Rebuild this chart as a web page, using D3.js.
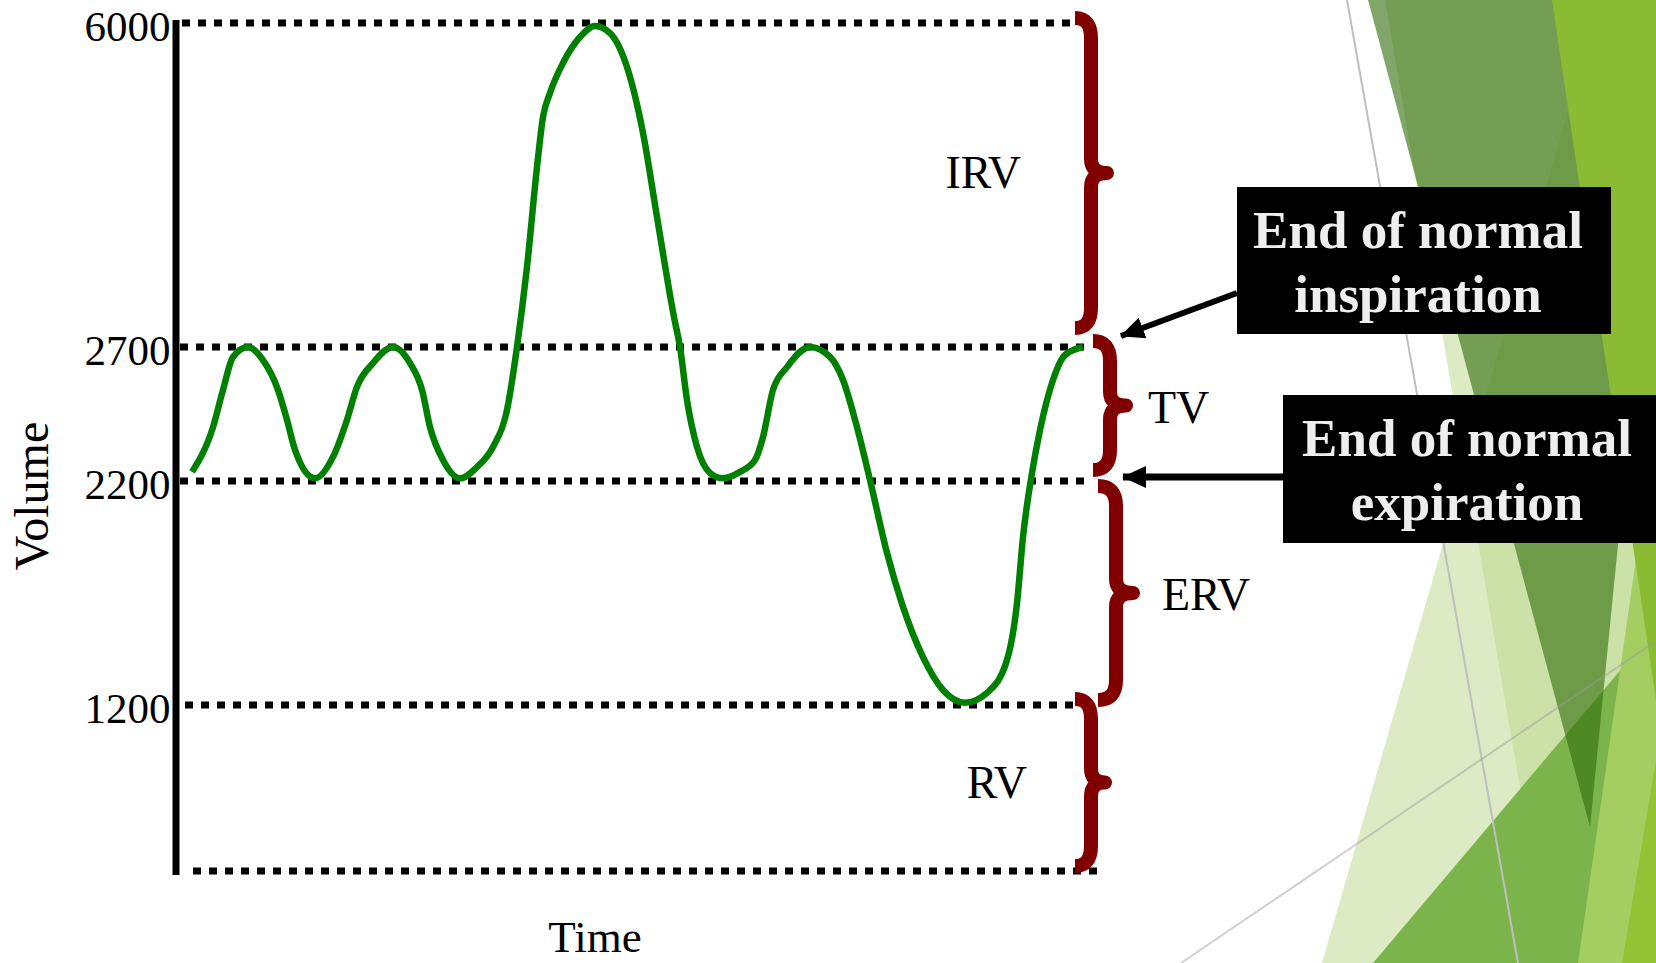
<!DOCTYPE html>
<html>
<head>
<meta charset="utf-8">
<script src="https://cdn.jsdelivr.net/npm/d3@7"></script>
<style>
body { margin: 0; background: #fff; overflow: hidden; }
svg { display: block; }
text { font-family: "Times New Roman", "Liberation Serif", Times, serif; }
</style>
</head>
<body>
<div id="chart"></div>
<script>
// spirogram (time in arbitrary units, volume in mL)
var timeData = [1.7, 3.8, 4.8, 5.8, 7.3, 8.8, 10.3, 11.2, 12.0, 14.0,
  15.8, 17.2, 18.2, 19.8, 21.8, 23.5, 24.7, 25.5, 26.8, 28.5,
  30.2, 31.8, 33.2, 34.2, 35.2, 36.2, 36.8, 37.5, 38.8, 40.5,
  42.0, 43.5, 45.2, 46.8, 48.2, 49.9, 50.5, 51.2, 52.2, 53.5,
  54.8, 56.5, 58.0, 58.8, 59.8, 61.2, 63.5, 65.5, 66.8, 68.2,
  69.5, 71.2, 72.8, 74.8, 76.8, 79.0, 81.2, 83.2, 84.2, 84.8,
  85.7, 86.5, 87.8, 89.0, 90.8];
var volumeData = [2234, 2401, 2540, 2663, 2700, 2651, 2540, 2428, 2316, 2210,
  2290, 2428, 2551, 2640, 2700, 2640, 2540, 2401, 2278, 2210,
  2252, 2327, 2465, 2700, 3515, 4533, 5043, 5287, 5593, 5857,
  5970, 5898, 5552, 4880, 4024, 3005, 2700, 2502, 2327, 2230,
  2210, 2234, 2278, 2364, 2540, 2625, 2700, 2663, 2577, 2401,
  2204, 1879, 1638, 1414, 1267, 1210, 1254, 1401, 1655, 1950,
  2230, 2390, 2577, 2670, 2700];

var tickValues = [6000, 2700, 2200, 1200];
var levelValues = [6000, 2700, 2200, 1200, 0];

var braceNames = ["IRV", "TV", "ERV", "RV"];
var braceLow = [2700, 2200, 1200, 0];
var braceHigh = [6000, 2700, 2200, 1200];

var noteLines = [["End of normal", "inspiration"], ["End of normal", "expiration"]];
var noteValues = [2700, 2200];

var width = 1656, height = 963;

var x = d3.scaleLinear().domain([0, 91]).range([175, 1085]);
// the picture is schematic, so the volume axis is piecewise
var y = d3.scaleLinear()
    .domain([0, 1200, 2200, 2700, 6000])
    .range([871, 705, 481, 347, 23]);

var svg = d3.select("#chart").append("svg")
    .attr("width", width)
    .attr("height", height);

svg.append("rect").attr("width", width).attr("height", height).attr("fill", "#fff");

// slide theme facets on the right
var facets = [
  {pts: [[1385, 0], [1656, 0], [1656, 963], [1550, 963]], fill: "#bbd78b", op: 0.5},
  {pts: [[1600, 0], [1656, 0], [1656, 963], [1322, 963]], fill: "#bbd78b", op: 0.5},
  {pts: [[1373, 963], [1656, 628], [1656, 963]], fill: "#7ab44a", op: 1},
  {pts: [[1578, 963], [1656, 420], [1656, 963]], fill: "#a5ce62", op: 1},
  {pts: [[1622, 963], [1656, 760], [1656, 963]], fill: "#93c234", op: 1},
  {pts: [[1368, 0], [1672, 0], [1590, 827]], fill: "#34700d", op: 0.62},
  {pts: [[1552, 0], [1656, 0], [1656, 700]], fill: "#8bba33", op: 1}
];
svg.append("g").selectAll("polygon")
    .data(facets)
    .enter()
    .append("polygon")
    .attr("points", function(d) { return d.pts.join(" "); })
    .attr("fill", function(d) { return d.fill; })
    .attr("fill-opacity", function(d) { return d.op; });

svg.append("line").attr("x1", 1347).attr("y1", 0).attr("x2", 1518).attr("y2", 963)
    .attr("stroke", "#bfbfbf").attr("stroke-width", 2);
svg.append("line").attr("x1", 1181).attr("y1", 963).attr("x2", 1656).attr("y2", 641)
    .attr("stroke", "#999").attr("stroke-opacity", 0.45).attr("stroke-width", 2);

// dotted level lines
var levelStart = {6000: 182, 2700: 180, 2200: 180, 1200: 185, 0: 193};
var levelEnd = {6000: 1075, 2700: 1086, 2200: 1086, 1200: 1073, 0: 1097};

svg.append("g").selectAll("line")
    .data(levelValues)
    .enter()
    .append("line")
    .attr("x1", function(d) { return levelStart[d]; })
    .attr("x2", function(d) { return levelEnd[d]; })
    .attr("y1", function(d) { return y(d); })
    .attr("y2", function(d) { return y(d); })
    .attr("stroke", "#000")
    .attr("stroke-width", 7)
    .attr("stroke-dasharray", "8 8");

// axis
var yAxis = d3.axisLeft(y)
    .tickValues(tickValues)
    .tickSize(0)
    .tickPadding(5)
    .tickFormat(d3.format("d"));

var gy = svg.append("g")
    .attr("transform", "translate(175.5,0)")
    .call(yAxis);
gy.select(".domain")
    .attr("stroke", "#000")
    .attr("stroke-width", 7)
    .attr("stroke-linecap", "square");
gy.selectAll("text")
    .attr("dy", "0.4em")
    .attr("fill", "#000")
    .style("font-size", "43px")
    .style("font-family", "\"Times New Roman\", \"Liberation Serif\", Times, serif");

svg.append("text")
    .attr("transform", "translate(48,496) rotate(-90)")
    .attr("text-anchor", "middle")
    .style("font-size", "48px")
    .text("Volume");

svg.append("text")
    .attr("x", 595)
    .attr("y", 952)
    .attr("text-anchor", "middle")
    .style("font-size", "45px")
    .text("Time");

// volume trace
var points = timeData.map(function(t, i) { return {t: t, v: volumeData[i]}; });

var line = d3.line()
    .x(function(d) { return x(d.t); })
    .y(function(d) { return y(d.v); })
    .curve(d3.curveMonotoneX);

svg.append("path")
    .datum(points)
    .attr("fill", "none")
    .attr("stroke", "#008000")
    .attr("stroke-width", 6.5)
    .attr("stroke-linejoin", "round")
    .attr("d", line);

// braces
var braceLayout = [
  {xe: 1075, xm: 1091, xt: 1107, t: -5, b: -19, lx: 1021, ly: 15, anchor: "end"},
  {xe: 1093, xm: 1110, xt: 1126, t: -6, b: -11, lx: 1148, ly: 17, anchor: "start"},
  {xe: 1098, xm: 1116, xt: 1133, t: 5, b: -5, lx: 1162, ly: 17, anchor: "start"},
  {xe: 1075, xm: 1091, xt: 1105, t: -6, b: -5, lx: 1027, ly: 15, anchor: "end"}
];

function bracePath(L, y0, y1) {
  var ym = (y0 + y1) / 2, r = 20, r2 = 14;
  return "M" + L.xe + "," + y0 +
    "Q" + L.xm + "," + y0 + " " + L.xm + "," + (y0 + r) +
    "L" + L.xm + "," + (ym - r2) +
    "Q" + L.xm + "," + ym + " " + L.xt + "," + ym +
    "Q" + L.xm + "," + ym + " " + L.xm + "," + (ym + r2) +
    "L" + L.xm + "," + (y1 - r) +
    "Q" + L.xm + "," + y1 + " " + L.xe + "," + y1;
}

var braces = svg.append("g").selectAll("g")
    .data(braceNames)
    .enter()
    .append("g");

braces.append("path")
    .attr("d", function(d, i) {
      var L = braceLayout[i];
      return bracePath(L, y(braceHigh[i]) + L.t, y(braceLow[i]) + L.b);
    })
    .attr("fill", "none")
    .attr("stroke", "#800000")
    .attr("stroke-width", 14)
    .attr("stroke-linejoin", "round");

braces.append("text")
    .attr("x", function(d, i) { return braceLayout[i].lx; })
    .attr("y", function(d, i) {
      var L = braceLayout[i];
      return (y(braceHigh[i]) + L.t + y(braceLow[i]) + L.b) / 2 + L.ly;
    })
    .attr("text-anchor", function(d, i) { return braceLayout[i].anchor; })
    .style("font-size", "46px")
    .text(function(d) { return d; });

// annotation boxes with arrows
svg.append("defs").append("marker")
    .attr("id", "head")
    .attr("viewBox", "0 0 24 22")
    .attr("refX", 23)
    .attr("refY", 11)
    .attr("markerWidth", 24)
    .attr("markerHeight", 22)
    .attr("markerUnits", "userSpaceOnUse")
    .attr("orient", "auto")
  .append("path")
    .attr("d", "M0,0L24,11L0,22Z")
    .attr("fill", "#000");

var noteLayout = [
  {x: 1237, y: 187, w: 374, h: 147, fx: 1237, fy: 293, tx: 1121, dy: -11, sw: 6},
  {x: 1283, y: 395, w: 380, h: 148, fx: 1283, fy: 477, tx: 1123, dy: -4, sw: 7}
];

var notes = svg.append("g").selectAll("g")
    .data(noteLines)
    .enter()
    .append("g");

notes.append("line")
    .attr("x1", function(d, i) { return noteLayout[i].fx; })
    .attr("y1", function(d, i) { return noteLayout[i].fy; })
    .attr("x2", function(d, i) { return noteLayout[i].tx; })
    .attr("y2", function(d, i) { return y(noteValues[i]) + noteLayout[i].dy; })
    .attr("stroke", "#000")
    .attr("stroke-width", function(d, i) { return noteLayout[i].sw; })
    .attr("marker-end", "url(#head)");

notes.append("rect")
    .attr("x", function(d, i) { return noteLayout[i].x; })
    .attr("y", function(d, i) { return noteLayout[i].y; })
    .attr("width", function(d, i) { return noteLayout[i].w; })
    .attr("height", function(d, i) { return noteLayout[i].h; })
    .attr("fill", "#000");

notes.each(function(d, i) {
  var L = noteLayout[i];
  d3.select(this).selectAll(".nt")
      .data(d)
      .enter()
      .append("text")
      .attr("class", "nt")
      .attr("x", L.x + L.w / 2 - 6)
      .attr("y", function(s, j) { return L.y + 61 + j * 64; })
      .attr("text-anchor", "middle")
      .attr("fill", "#eeeeee")
      .style("font-size", "53px")
      .style("font-weight", "bold")
      .text(function(s) { return s; });
});
</script>
</body>
</html>
